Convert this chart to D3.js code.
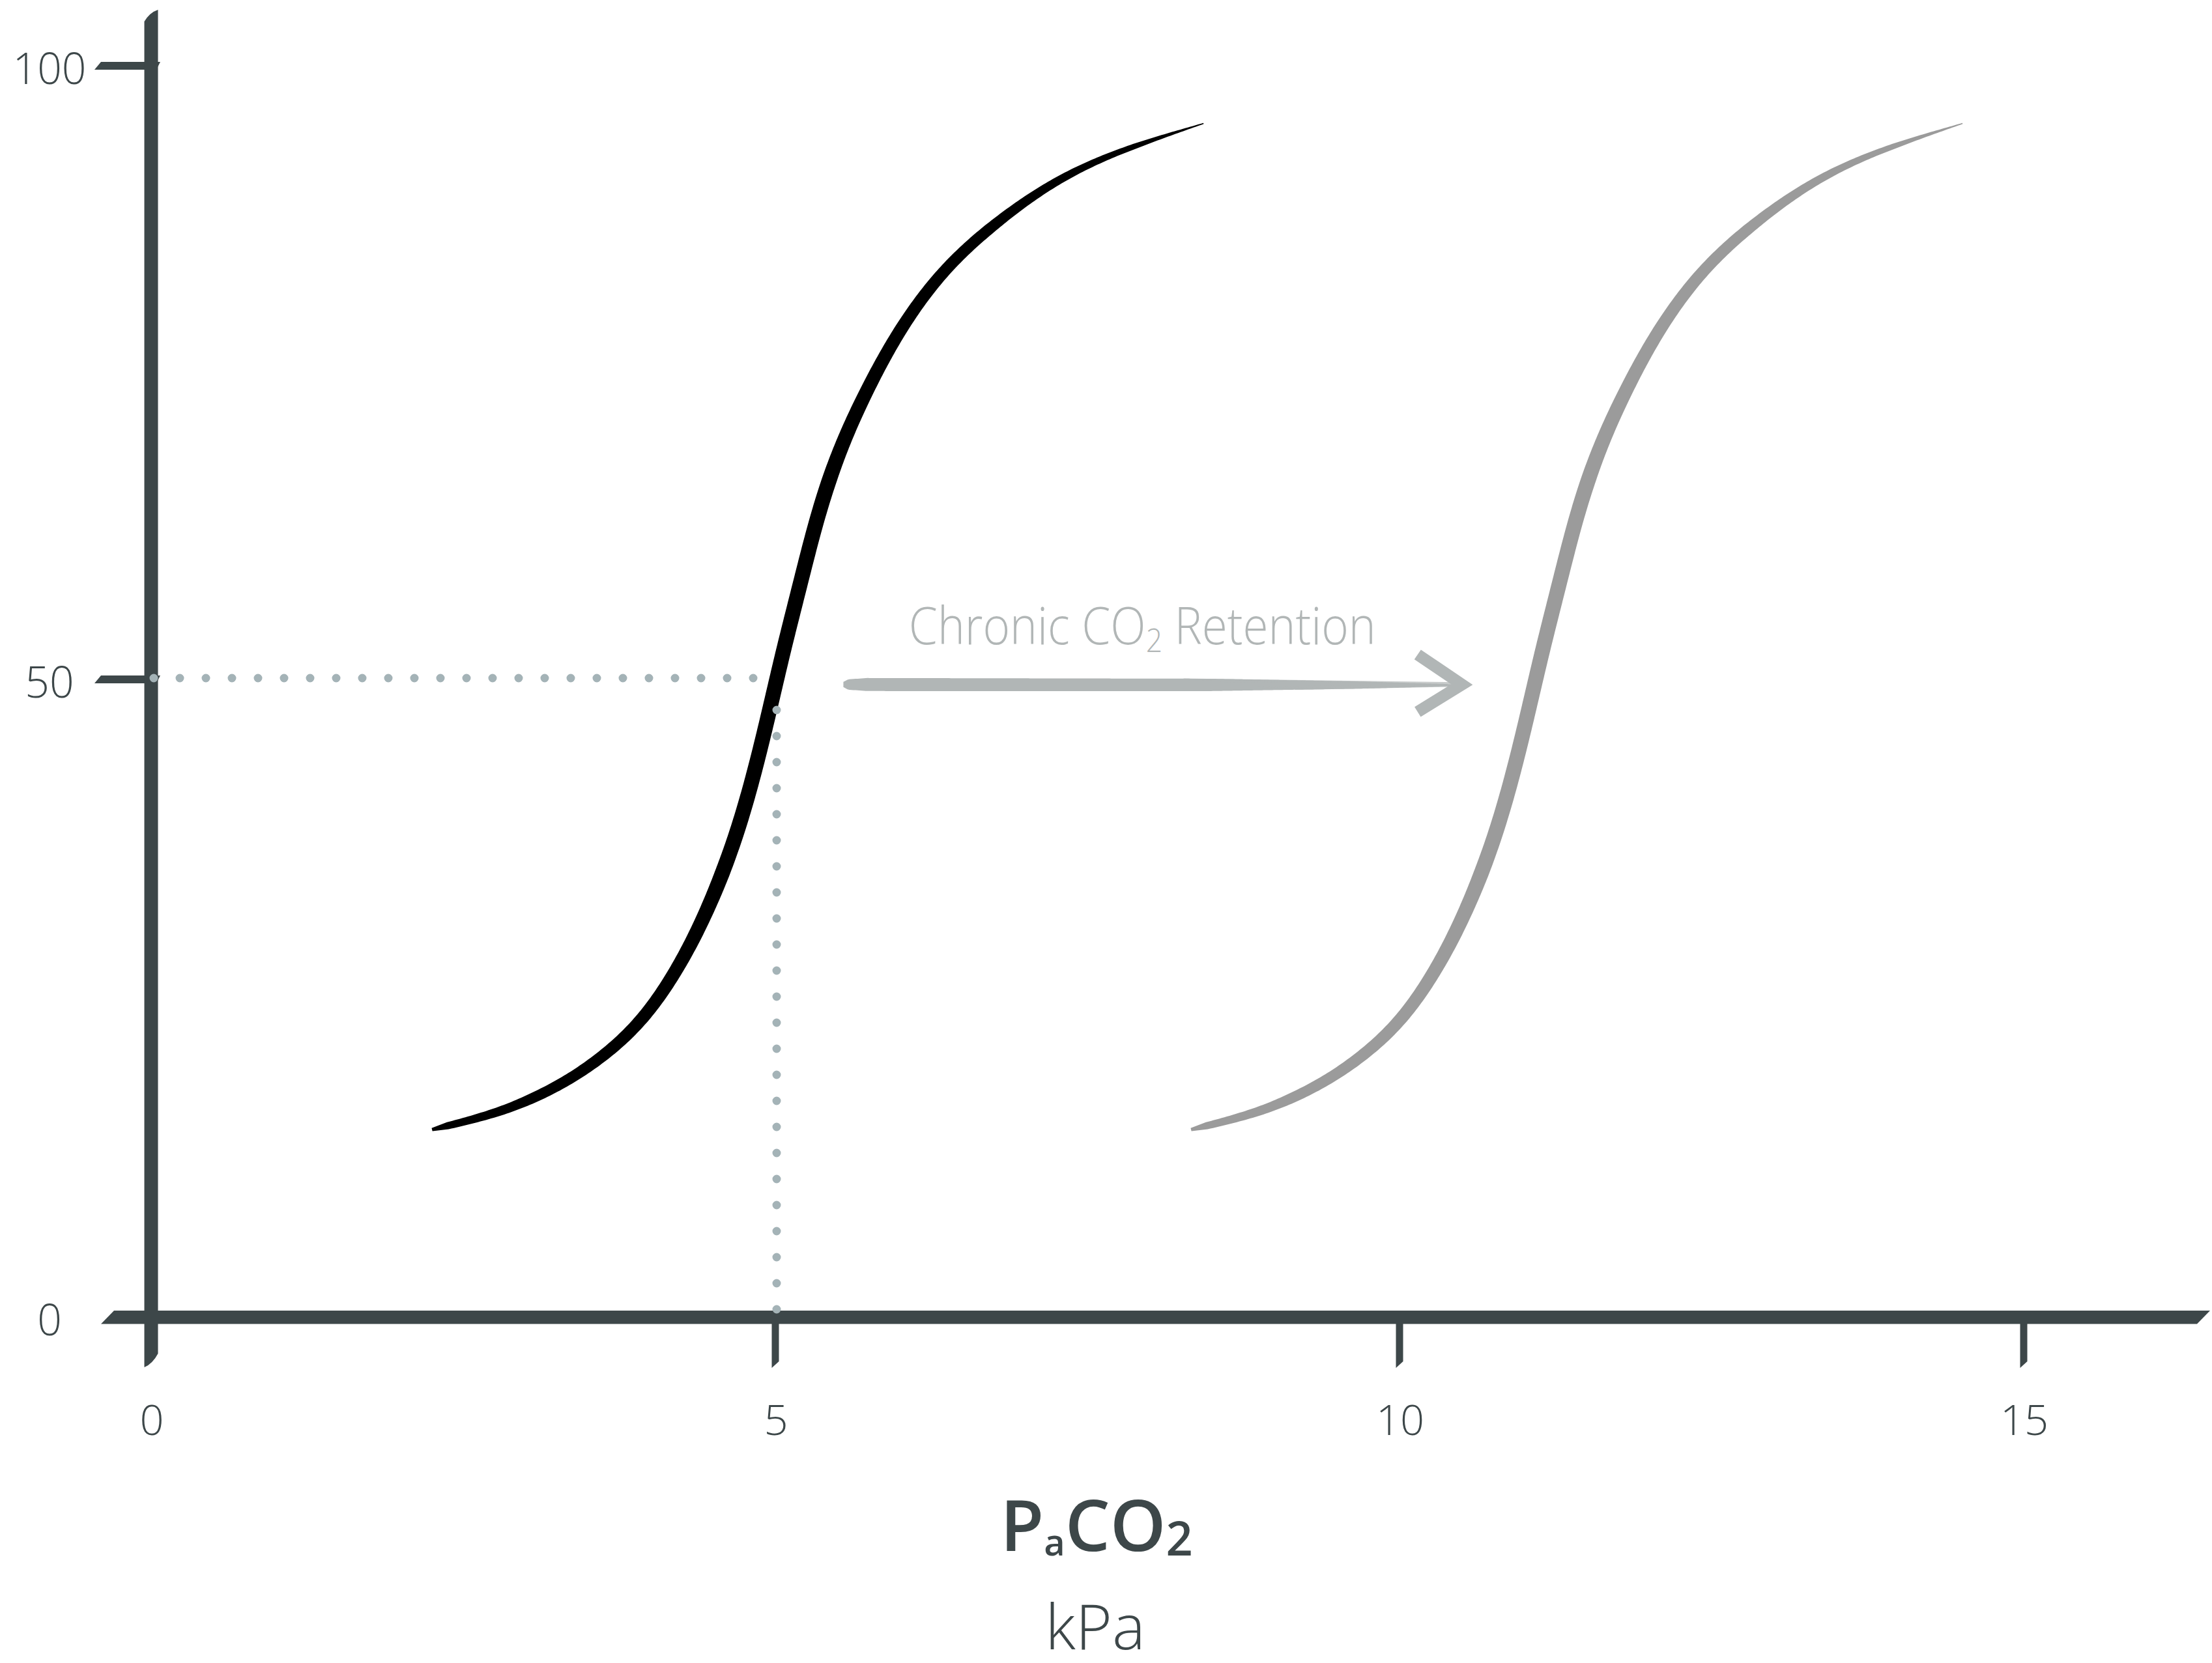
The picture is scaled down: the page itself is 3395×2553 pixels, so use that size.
<!DOCTYPE html>
<html>
<head>
<meta charset="utf-8">
<script src="https://cdn.jsdelivr.net/npm/d3@7"></script>
<style>
  html, body { margin: 0; padding: 0; background: #ffffff; }
  svg { display: block; }
</style>
</head>
<body>
<svg id="chart" width="3395" height="2553"></svg>
<script>
// ---- Axis ticks ----
const xTicks = [0, 5, 10, 15];
const xTickLabels = ["0", "5", "10", "15"];
const yTicks = [0, 50, 100];
const yTickLabels = ["0", "50", "100"];

// ---- CO2 response curves: [PaCO2 (kPa), ventilatory response (%)] ----
const normalCurve = [
  [2.25, 14.7], [2.75, 15.9], [3.10, 17.3], [3.42, 19.0], [3.76, 21.5],
  [4.04, 24.5], [4.32, 29.0], [4.55, 34.0], [4.72, 38.7], [4.86, 43.7],
  [4.98, 48.7], [5.07, 52.6], [5.20, 57.8], [5.34, 63.5], [5.51, 68.7],
  [5.74, 73.8], [6.02, 79.0], [6.36, 83.6], [6.76, 87.2], [7.21, 90.5],
  [7.72, 93.0], [8.43, 95.3]
];
const retentionCurve = [
  [8.33, 14.7], [8.83, 15.9], [9.18, 17.3], [9.50, 19.0], [9.84, 21.5],
  [10.12, 24.5], [10.40, 29.0], [10.63, 34.0], [10.80, 38.7], [10.94, 43.7],
  [11.06, 48.7], [11.15, 52.6], [11.28, 57.8], [11.42, 63.5], [11.59, 68.7],
  [11.82, 73.8], [12.10, 79.0], [12.44, 83.6], [12.84, 87.2], [13.29, 90.5],
  [13.80, 93.0], [14.51, 95.3]
];

// ---- Reference point (normal PaCO2 at half response) ----
const markerX = 5;
const markerY = 50;

// ---- Shift annotation ----
const arrowStartX = 5.545;
const arrowEndX = 10.50;
const arrowY = 49.6;
const annotationX = 7.94;

// ---- Colours ----
const AXIS = "#3d4749";
const DOT = "#a4b3b7";
const NOTE = "#b1b6b6";
const NORMAL = "#000000";
const SHIFTED = "#9b9b9b";

const svg = d3.select("#chart");

const x = d3.scaleLinear().domain([0, 15]).range([232, 3106]);
const y = d3.scaleLinear().domain([0, 50, 100]).range([2022, 1043, 101]);

const x0 = x(0), y0 = y(0);

// Outline of a variable-width brush stroke following a path element
function brushOutline(node, widthAt, samples) {
  const L = node.getTotalLength();
  const left = [], right = [];
  for (let i = 0; i <= samples; i++) {
    const s = L * i / samples;
    const p = node.getPointAtLength(s);
    const a = node.getPointAtLength(Math.max(0, s - 1));
    const b = node.getPointAtLength(Math.min(L, s + 1));
    let dx = b.x - a.x, dy = b.y - a.y;
    const n = Math.hypot(dx, dy) || 1;
    dx /= n; dy /= n;
    const w = widthAt(i / samples) / 2;
    left.push([p.x - dy * w, p.y + dx * w]);
    right.push([p.x + dy * w, p.y - dx * w]);
  }
  const pts = left.concat(right.reverse());
  return "M" + pts.map(p => p[0].toFixed(2) + "," + p[1].toFixed(2)).join("L") + "Z";
}

// ---- Axes ----
const axisG = svg.append("g");

// y ticks (under the spine)
yTicks.filter(v => v > 0).forEach(v => {
  const yy = y(v);
  axisG.append("path")
    .attr("d", `M${x0 - 77},${yy - 6}L${x0 + 14},${yy - 6}L${x0 + 8},${yy + 6}L${x0 - 87},${yy + 6}Z`)
    .attr("fill", AXIS);
});

// x ticks
xTicks.filter(v => v > 0).forEach(v => {
  const xx = x(v);
  axisG.append("path")
    .attr("d", `M${xx - 5.5},${y0}L${xx + 5.5},${y0}L${xx + 5.5},${y0 + 68}L${xx - 5.5},${y0 + 78}Z`)
    .attr("fill", AXIS);
});

// y spine
axisG.append("path")
  .attr("d", `M${x0 - 10.5},${y(100) - 68}Q${x0 - 2},${y(100) - 82} ${x0 + 10.5},${y(100) - 86}L${x0 + 10.5},${y0 + 56}Q${x0 + 2},${y0 + 72} ${x0 - 10.5},${y0 + 77}Z`)
  .attr("fill", AXIS);

// x spine
axisG.append("path")
  .attr("d", `M${x0 - 57},${y0 - 10}L${x(15) + 286},${y0 - 10}L${x(15) + 266},${y0 + 10.5}L${x0 - 77},${y0 + 10.5}Z`)
  .attr("fill", AXIS);

// tick labels
const labelFont = "'Open Sans', 'Noto Sans', sans-serif";
svg.append("g").selectAll("text").data(yTicks).join("text")
  .attr("x", 76)
  .attr("y", d => y(d) + 28)
  .attr("text-anchor", "middle")
  .attr("font-family", labelFont)
  .attr("font-weight", 300)
  .attr("font-size", 66)
  .attr("fill", AXIS)
  .text((d, i) => yTickLabels[i]);

svg.append("g").selectAll("text").data(xTicks).join("text")
  .attr("x", d => x(d) + 1)
  .attr("y", 2203)
  .attr("text-anchor", "middle")
  .attr("font-family", labelFont)
  .attr("font-weight", 300)
  .attr("font-size", 65)
  .attr("fill", AXIS)
  .text((d, i) => xTickLabels[i]);

// axis title
const title = svg.append("text")
  .attr("x", 1683).attr("y", 2381)
  .attr("text-anchor", "middle")
  .attr("font-family", labelFont)
  .attr("font-weight", 600)
  .attr("font-size", 109)
  .attr("fill", AXIS);
title.append("tspan").text("P");
title.append("tspan").attr("font-size", 56).attr("dy", 7).text("a");
title.append("tspan").attr("dy", -7).text("CO");
title.append("tspan").attr("font-size", 72).attr("dy", 7).text("2");

svg.append("text")
  .attr("x", 1681).attr("y", 2532)
  .attr("text-anchor", "middle")
  .attr("font-family", labelFont)
  .attr("font-weight", 300)
  .attr("font-size", 96)
  .attr("fill", AXIS)
  .text("kPa");

// ---- Response curves as brush strokes ----
const line = d3.line()
  .x(d => x(d[0]))
  .y(d => y(d[1]))
  .curve(d3.curveBasis);

const curveWidth = d3.scaleLinear()
  .domain([0, 0.012, 0.08, 0.3, 0.6, 0.82, 0.95, 1])
  .range([5, 11, 16, 23, 23, 17, 8, 1.5])
  .clamp(true);

const guide = svg.append("g").attr("visibility", "hidden");
[[normalCurve, NORMAL], [retentionCurve, SHIFTED]].forEach(([data, color]) => {
  const p = guide.append("path").attr("d", line(data));
  svg.append("path")
    .attr("d", brushOutline(p.node(), curveWidth, 500))
    .attr("fill", color);
});

// ---- Dotted guides at the reference point ----
const dotsG = svg.append("g")
  .attr("stroke", DOT)
  .attr("stroke-width", 13)
  .attr("stroke-linecap", "round")
  .attr("stroke-dasharray", "0 40")
  .attr("fill", "none");

dotsG.append("line")
  .attr("x1", x0 + 4).attr("y1", y(markerY) - 2)
  .attr("x2", x(markerX) + 6).attr("y2", y(markerY) - 2);

dotsG.append("line")
  .attr("x1", x(markerX) + 2).attr("y1", y0 - 12)
  .attr("x2", x(markerX) + 2).attr("y2", y(markerY) + 40);

// ---- Shift arrow ----
const ay = y(arrowY);
const ax1 = x(arrowStartX), ax2 = x(arrowEndX);
const shaft = guide.append("path").attr("d", `M${ax1},${ay}L${ax2 - 14},${ay + 1}`);
const shaftWidth = d3.scaleLinear()
  .domain([0, 0.008, 0.04, 0.6, 0.85, 1])
  .range([8, 16, 20, 19, 11, 3])
  .clamp(true);
svg.append("path")
  .attr("d", brushOutline(shaft.node(), shaftWidth, 300))
  .attr("fill", NOTE);

// dry-brush streaks at the tip of the shaft
const streaks = svg.append("g").attr("stroke", NOTE).attr("stroke-width", 2.5).attr("opacity", 0.7);
[-8, -5, 4, 7].forEach((off, i) => {
  streaks.append("line")
    .attr("x1", ax1 + (ax2 - ax1) * (0.55 + i * 0.06)).attr("y1", ay + off)
    .attr("x2", ax2 - 10).attr("y2", ay + off * 0.3);
});

// arrow head
svg.append("path")
  .attr("d", `M${ax2 - 68},${ay - 46}L${ax2},${ay}L${ax2 - 68},${ay + 42}`)
  .attr("fill", "none")
  .attr("stroke", NOTE)
  .attr("stroke-width", 18)
  .attr("stroke-linejoin", "miter");

// annotation
const note = svg.append("text")
  .attr("x", x(annotationX)).attr("y", ay - 62)
  .attr("text-anchor", "middle")
  .attr("font-family", labelFont)
  .attr("font-weight", 300)
  .attr("font-size", 80)
  .attr("fill", NOTE)
  .attr("textLength", 717)
  .attr("lengthAdjust", "spacingAndGlyphs");
note.append("tspan").text("Chronic CO");
note.append("tspan").attr("font-size", 50).attr("dy", 12).text("2");
note.append("tspan").attr("dy", -12).text(" Retention");
</script>
</body>
</html>
